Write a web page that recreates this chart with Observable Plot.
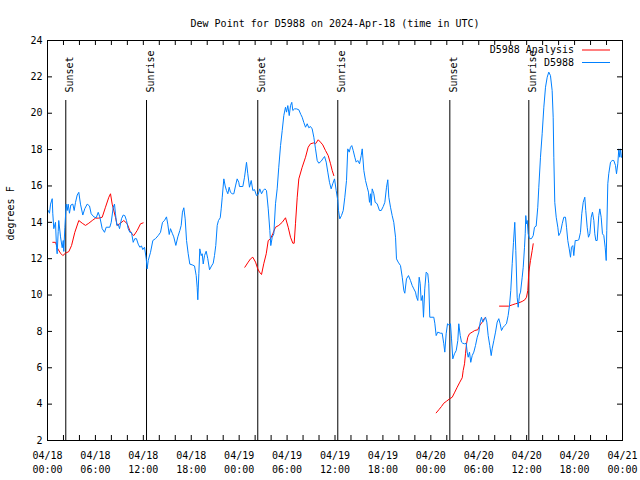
<!DOCTYPE html>
<html>
<head>
<meta charset="utf-8">
<script src="https://cdn.jsdelivr.net/npm/d3@7"></script>
<script src="https://cdn.jsdelivr.net/npm/@observablehq/plot@0.6"></script>
<style>
  html, body { margin: 0; padding: 0; background: #fff; }
</style>
</head>
<body>
<div id="chart"></div>
<script>
// ---- Data (hours since 2024-04-18 00:00 UTC) ----
const titleText = "Dew Point for D5988 on 2024-Apr-18 (time in UTC)";
const yLabel = "degrees F";
const seriesNames = ["D5988 Analysis", "D5988"];
const seriesColors = ["#ff0000", "#0080ff"];

const blueHours = [0.09,0.25,0.38,0.59,0.66,0.79,1.00,1.13,1.21,1.34,1.41,1.63,1.84,1.97,2.04,2.17,2.34,2.47,2.59,2.75,2.92,3.17,3.34,3.51,3.72,3.92,4.13,4.42,4.67,4.97,5.26,5.47,5.80,6.10,6.35,6.55,6.85,7.14,7.35,7.80,7.98,8.23,8.39,8.51,8.68,8.85,9.02,9.27,9.48,9.68,9.89,10.10,10.31,10.52,10.73,10.93,11.14,11.36,11.56,11.77,11.93,12.15,
12.36,12.48,12.61,12.90,13.19,13.52,13.86,14.15,14.40,14.65,14.90,15.06,15.24,15.40,15.65,15.81,16.07,16.32,16.57,16.74,16.90,17.07,17.24,17.41,17.62,17.82,18.12,18.41,18.62,18.74,18.82,18.95,19.07,19.25,19.37,19.50,19.66,19.87,20.07,20.29,20.54,20.75,20.91,21.07,21.25,21.41,21.63,21.75,21.88,22.08,22.25,22.41,22.58,22.75,22.91,23.13,23.33,23.54,23.75,23.95,
24.04,24.46,24.67,24.92,25.08,25.29,25.51,25.71,25.92,26.17,26.38,26.58,26.80,27.01,27.21,27.42,27.64,27.84,27.96,28.14,28.34,28.55,28.76,28.96,29.18,29.39,29.59,29.80,29.93,30.09,30.27,30.43,30.59,30.72,30.93,31.18,31.47,31.72,31.89,32.09,32.31,32.52,32.72,32.93,33.14,33.35,33.56,33.77,33.97,34.27,34.47,34.69,34.90,35.10,35.31,35.52,35.72,35.94,36.15,36.35,
36.44,36.60,36.81,37.03,37.23,37.44,37.60,37.78,37.94,38.10,38.28,38.48,38.65,38.85,39.07,39.28,39.41,39.61,39.82,40.03,40.19,40.32,40.45,40.53,40.66,40.86,41.03,41.28,41.57,41.79,42.04,42.24,42.45,42.61,42.74,42.95,43.16,43.36,43.58,43.70,43.91,44.20,44.42,44.62,44.74,44.95,45.20,45.45,45.67,45.87,46.08,46.21,46.37,46.54,46.67,46.79,46.96,47.08,47.24,47.42,47.62,47.74,47.87,
48.37,48.50,48.67,48.87,49.21,49.42,49.62,49.75,49.92,50.09,50.25,50.46,50.59,50.75,50.96,51.18,51.38,51.50,51.68,51.84,52.00,52.22,52.43,52.55,52.68,52.84,53.00,53.18,53.38,53.59,53.81,54.01,54.18,54.34,54.51,54.68,54.85,55.01,55.18,55.38,55.56,55.68,55.89,56.10,56.31,56.51,56.68,56.85,57.06,57.26,57.47,57.68,57.85,58.01,58.19,58.35,58.51,58.64,58.81,58.94,59.10,
59.23,59.44,59.57,59.73,59.82,59.89,59.98,60.07,60.19,60.35,60.60,60.82,60.98,61.19,61.39,61.52,61.73,61.94,62.15,62.36,62.57,62.77,62.98,63.19,63.32,63.40,63.52,63.70,63.90,64.02,64.24,64.45,64.65,64.86,64.99,65.15,65.33,65.49,65.61,65.78,65.90,66.08,66.33,66.53,66.74,66.90,67.08,67.28,67.40,67.58,67.74,67.91,68.08,68.24,68.41,68.53,68.66,68.83,69.03,69.16,69.33,69.49,69.66,69.83,69.96,70.03,70.16,70.28,70.50,70.71,70.91,71.12,71.25,71.41,71.54,71.66,71.75,71.87];

const blueValues = [14.65,14.5,15.0,15.3,14.5,13.65,14.0,12.6,12.27,13.5,14.1,13.2,12.6,13.0,12.4,13.7,15.0,14.65,15.0,14.5,14.95,15.0,14.65,15.1,15.5,15.65,15.0,14.4,14.75,15.0,14.9,14.47,14.3,14.25,14.55,14.3,13.65,13.45,13.73,13.73,14.0,14.83,15.0,14.47,13.83,13.9,13.65,14.2,14.4,14.37,14.1,13.65,13.45,13.45,12.9,13.1,13.1,12.8,12.63,12.7,12.5,12.63,
12.0,11.44,11.9,12.35,13.0,13.1,13.27,13.45,14.0,14.1,14.3,13.9,13.33,13.65,13.37,13.2,12.73,13.2,13.55,13.83,14.56,14.8,14.19,13.0,12.27,11.7,11.66,11.6,11.07,10.43,9.74,11.17,12.54,12.17,12.27,11.71,12.17,12.41,12.0,11.39,11.6,11.75,12.17,12.72,13.83,14.1,14.25,14.74,15.38,16.39,16.0,15.75,15.57,15.93,15.65,15.57,15.57,16.0,16.39,16.2,
15.97,15.97,16.48,17.3,16.67,15.93,16.3,15.75,15.8,15.47,15.53,15.84,15.57,15.75,15.84,15.75,14.74,13.55,12.72,13.18,13.37,15.02,15.84,17.03,18.22,19.05,19.87,20.33,20.06,20.42,19.87,20.42,20.6,20.15,20.24,20.24,20.19,19.93,19.78,19.5,19.23,19.42,19.2,19.27,19.14,18.68,18.04,17.4,17.25,17.36,17.49,17.62,17.31,16.76,16.2,15.84,16.12,16.39,15.75,15.2,
14.65,14.19,14.37,14.65,15.38,16.3,18.04,17.86,18.13,18.22,17.95,17.58,17.31,17.4,17.22,17.67,18.04,16.85,16.3,15.93,15.66,15.1,15.57,14.93,15.84,15.57,15.1,15.02,14.65,14.65,14.87,15.1,15.93,16.34,15.38,14.83,14.37,14.0,13.18,11.99,11.81,11.62,10.98,10.25,10.1,10.89,11.07,10.8,10.52,10.34,10.16,9.88,9.7,10.98,10.62,9.7,9.97,8.78,10.34,11.26,11.17,10.62,8.78,
8.78,8.45,7.77,7.96,7.9,7.9,7.32,6.86,7.87,8.42,8.36,8.42,7.59,6.49,6.77,6.95,7.5,8.42,7.77,7.41,7.35,7.32,7.35,6.86,6.58,6.86,6.3,6.67,6.86,7.22,7.68,7.96,8.51,8.78,8.51,8.64,8.78,8.51,7.77,7.22,6.67,7.04,7.5,7.96,8.51,8.7,8.42,8.05,8.23,8.33,8.42,8.87,9.42,10.25,11.72,12.9,14.0,12.45,9.88,9.33,10.0,
10.16,10.98,11.53,12.63,13.37,14.37,13.92,14.1,13.37,13.1,13.1,13.27,13.73,13.79,14.83,15.93,17.58,18.87,20.33,21.43,21.98,22.26,22.07,21.25,19.78,17.58,15.1,14.28,13.73,13.27,13.45,13.92,14.28,14.28,13.73,13.0,12.54,12.08,12.63,12.72,12.17,13.0,13.0,13.04,13.45,14.47,15.1,15.38,14.65,13.73,13.18,13.37,14.28,14.56,14.1,13.37,13.0,13.0,14.37,14.74,14.28,13.37,13.27,12.63,11.9,13.55,16.12,16.67,17.31,17.4,17.4,17.13,16.67,17.22,18.04,17.58,18.04,17.58];

// Analysis series (null = gap between runs)
const redHours = [0.66,1.00,1.29,1.63,1.92,2.25,2.67,3.01,3.42,3.92,4.35,4.76,5.17,5.60,6.01,6.42,6.85,7.26,7.68,7.89,8.10,8.51,8.73,9.14,9.55,9.98,10.39,10.81,11.23,11.65,11.98,
12.5,
24.71,25.13,25.42,25.71,26.05,26.33,26.55,26.80,27.08,27.39,27.64,27.92,28.21,28.55,28.96,29.39,29.80,30.14,30.43,30.72,30.89,31.05,31.27,31.47,31.89,32.31,32.64,32.93,33.35,33.56,33.90,34.18,34.47,34.81,35.15,35.44,35.65,35.85,
40,
48.67,49.00,49.33,49.62,49.96,50.34,50.68,51.00,51.30,51.63,51.93,52.05,52.22,52.34,52.47,52.63,52.84,53.18,53.50,53.88,54.13,54.43,54.68,54.85,
56,
56.60,57.76,58.19,58.60,59.01,59.44,59.77,59.98,60.14,60.27,60.48,60.69,60.82];
const redValues = [12.9,12.9,12.54,12.3,12.17,12.3,12.39,12.72,13.45,14.1,13.95,13.83,13.95,14.1,14.23,14.23,14.28,14.83,15.38,15.57,15.0,14.28,13.83,13.95,14.1,13.92,13.45,13.27,13.55,13.92,13.97,
null,
11.53,11.81,11.99,12.08,11.81,11.44,11.26,11.13,11.72,12.27,13.0,13.09,13.37,13.73,13.83,14.0,14.25,13.73,13.18,12.85,12.85,13.92,15.38,16.39,17.03,17.58,18.13,18.32,18.37,18.32,18.54,18.41,18.26,17.95,17.67,17.22,16.85,16.57,
null,
3.52,3.69,3.87,4.05,4.16,4.29,4.38,4.66,4.93,5.21,5.45,5.85,6.22,6.77,7.32,7.68,7.87,7.96,8.05,8.09,8.33,8.51,8.7,8.78,
null,
9.39,9.39,9.46,9.52,9.57,9.65,9.74,9.88,10.25,11.26,11.9,12.45,12.82];

const sunHours = [2.29, 12.40, 26.33, 36.35, 50.38, 60.27];
const sunLabels = ["Sunset", "Sunrise", "Sunset", "Sunrise", "Sunset", "Sunrise"];

const yTicks = [2,4,6,8,10,12,14,16,18,20,22,24];

// ---- Build ----
const t0 = Date.UTC(2024, 3, 18);
const toDate = h => new Date(t0 + h * 3600e3);
const blue = blueHours.map((h, i) => ({t: toDate(h), v: blueValues[i]}));
const red = redHours.map((h, i) => ({t: toDate(h), v: redValues[i] == null ? NaN : redValues[i]}));
const sun = sunHours.map((h, i) => ({t: toDate(h), label: sunLabels[i]}));
const xStart = new Date(t0), xEnd = new Date(t0 + 72 * 3600e3);
const majorX = d3.utcHour.every(6).range(xStart, new Date(+xEnd + 1));
const minorX = d3.utcHour.every(2).range(xStart, new Date(+xEnd + 1));
const fmt = d3.utcFormat("%m/%d\n%H:%M");

const W = 640, H = 480, mL = 47, mR = 18, mT = 40, mB = 40;
const fw = W - mL - mR, fh = H - mT - mB;
const font = "'DejaVu Sans Mono', 'Liberation Mono', monospace";

const chart = Plot.plot({
  width: W, height: H,
  marginLeft: mL, marginRight: mR, marginTop: mT, marginBottom: mB,
  style: {fontFamily: font, fontSize: "10px", color: "black", background: "white"},
  x: {type: "utc", domain: [xStart, xEnd]},
  y: {domain: [2, 24]},
  marks: [
    Plot.ruleX(sun, {x: "t", stroke: "black", strokeWidth: 1, insetTop: 60}),
    Plot.text(sun, {x: "t", text: "label", frameAnchor: "top", dy: 52, rotate: -90, textAnchor: "start", fill: "black"}),
    Plot.line(red, {x: "t", y: "v", stroke: seriesColors[0], strokeWidth: 1}),
    Plot.line(blue, {x: "t", y: "v", stroke: seriesColors[1], strokeWidth: 1}),
    Plot.tickX(minorX, {x: d => d, insetTop: fh - 5, stroke: "black"}),
    Plot.tickX(minorX, {x: d => d, insetBottom: fh - 5, stroke: "black"}),
    Plot.tickY(yTicks, {y: d => d, insetRight: fw - 5, stroke: "black"}),
    Plot.tickY(yTicks, {y: d => d, insetLeft: fw - 5, stroke: "black"}),
    Plot.axisX(majorX, {tickSize: 0, tickPadding: 8, tickFormat: fmt, lineHeight: 1.45, label: null}),
    Plot.axisY(yTicks, {tickSize: 0, tickPadding: 5, label: null}),
    Plot.frame({stroke: "black"}),
    Plot.text([titleText], {frameAnchor: "top", dy: -21, fill: "black"}),
    Plot.text([yLabel], {frameAnchor: "left", dx: -37, rotate: -90, fill: "black"})
  ]
});

// Legend (top-right inside the frame)
const svg = d3.select(chart.tagName.toLowerCase() === "svg" ? chart : chart.querySelector("svg"));
const lg = svg.append("g").attr("font-family", font).attr("font-size", 10);
seriesNames.forEach((name, i) => {
  const y = mT + 10 + i * 12.5;
  lg.append("text").attr("x", W - mR - 48).attr("y", y).attr("dy", "0.32em")
    .attr("text-anchor", "end").attr("fill", "black").text(name);
  lg.append("line").attr("x1", W - mR - 40).attr("x2", W - mR - 12)
    .attr("y1", y).attr("y2", y).attr("stroke", seriesColors[i]).attr("stroke-width", 1);
});

document.getElementById("chart").appendChild(chart);
</script>
</body>
</html>
